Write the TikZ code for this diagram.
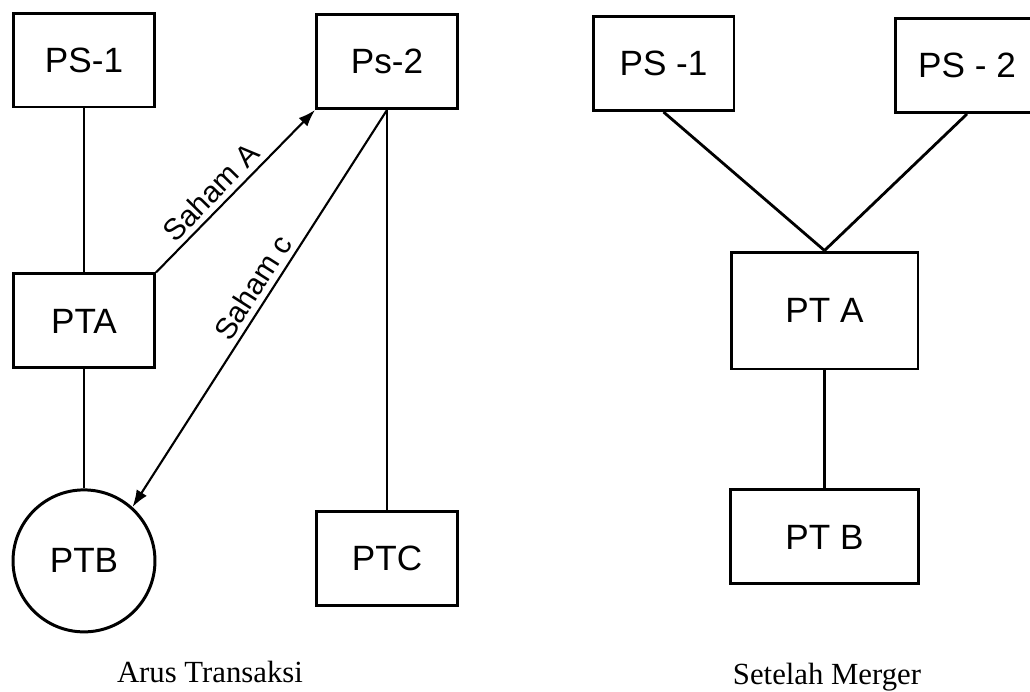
\documentclass[tikz,border=0pt]{standalone}
\usepackage{fontspec}
\setmainfont{Liberation Serif}
\newfontfamily\handfont{Liberation Sans}
\usepackage{tikz}
\usetikzlibrary{arrows.meta, positioning}

\begin{document}
\begin{tikzpicture}[
  x=0.02cm, y=-0.02cm,
  node distance=3.2cm,
  box/.style={rectangle, draw, line width=1.7pt, minimum width=2.82cm, minimum height=1.88cm, inner sep=0pt, font=\handfont\fontsize{20}{24}\selectfont},
  bigbox/.style={box, minimum width=3.74cm, minimum height=2.34cm},
  firm/.style={circle, draw, line width=1.7pt, minimum size=2.84cm, inner sep=0pt, font=\handfont\fontsize{20}{24}\selectfont},
  link/.style={line width=1.6pt},
  flow/.style={-{Latex[length=3.4mm, width=2.4mm]}, line width=1.2pt},
  tag/.style={font=\handfont\fontsize{17}{20}\selectfont, inner sep=3pt},
  caption/.style={font=\fontsize{17.5}{20}\selectfont}
]
\useasboundingbox (0,0) rectangle (1030,691);
\clip (0,0) rectangle (1030,691);

% Arus Transaksi
\node[box] (ps1L) at (84,60) {PS-1};
\node[box] (ps2L) at (387,61.5) {Ps-2};
\node[box, below=3.28cm of ps1L] (ptaL) {PTA};
\node[firm, below=2.38cm of ptaL] (ptbL) {PTB};
\node[box, below=8.0cm of ps2L] (ptcL) {PTC};

% Setelah Merger
\node[bigbox] (ptaR) at (824.5,310.5) {PT A};
\node[box] (ps1R) at (663.5,63.5) {PS -1};
\node[box, minimum width=2.88cm] (ps2R) at (967,65.5) {PS - 2};
\node[box, minimum width=3.76cm, below=2.36cm of ptaR] (ptbR) {PT B};

\node[caption] (capL) at (210,672) {Arus Transaksi};
\node[caption] (capR) at (827,677) {Setelah Merger};

\draw[link] (ps1L.south) -- (ptaL.north);
\draw[link] (ptaL.south) -- (ptbL.north);
\draw[link] (ps2L.south) -- (ptcL.north);
\draw[flow] (ptaL.north east) -- node[tag, sloped, above, pos=0.42] {Saham A} (ps2L.south west);
\draw[flow] (ps2L.south) -- node[tag, sloped, above, pos=0.47] {Saham c} (ptbL.48);

\draw[link] (ps1R.south) -- (ptaR.north);
\draw[link] (ps2R.south) -- (ptaR.north);
\draw[link] (ptaR.south) -- (ptbR.north);

\end{tikzpicture}
\end{document}
